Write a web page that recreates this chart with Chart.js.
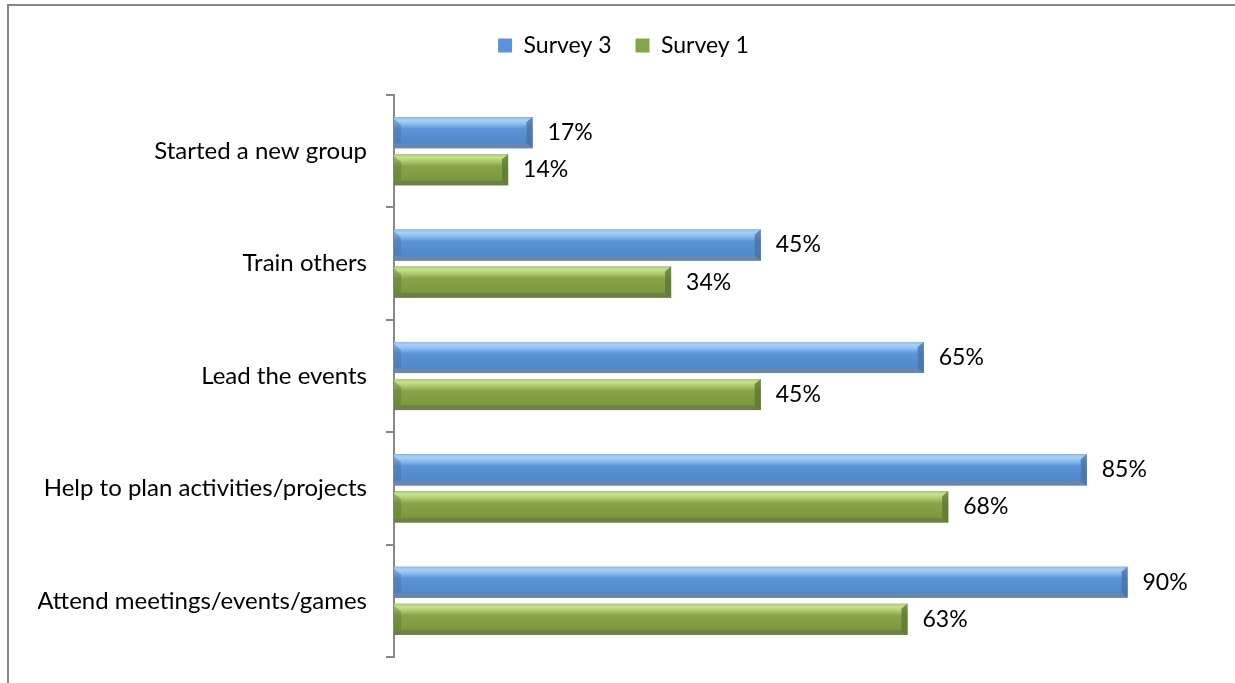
<!DOCTYPE html>
<html>
<head>
<meta charset="utf-8">
<script src="https://cdn.jsdelivr.net/npm/chart.js@4.4.0/dist/chart.umd.min.js"></script>
<style>
  html, body { margin: 0; padding: 0; background: #fff; overflow: hidden; }
  #wrap { position: relative; width: 1235px; height: 683px; }
  #frame { position: absolute; left: 7px; top: 4px; width: 1400px; height: 900px;
           border-left: 2px solid #878787; border-top: 2px solid #878787; }
  #myChart { position: absolute; left: 0; top: 0; }
</style>
</head>
<body>
<div id="wrap">
  <div id="frame"></div>
  <canvas id="myChart" width="1235" height="683"></canvas>
</div>
<script>
'use strict';

const activities = [
  'Started a new group',
  'Train others',
  'Lead the events',
  'Help to plan activities/projects',
  'Attend meetings/events/games'
];
const survey3 = [17, 45, 65, 85, 90];
const survey1 = [14, 34, 45, 68, 63];

// bevel colours for each dataset (blue first, green second)
const tones = [
  { main: '#5B93D8', top: '#8CBCEE', shine: '#AAD0F7', low: '#5287CB', band: '#6986AB', end: '#4A72A6' },
  { main: '#86A449', top: '#AFCB6E', shine: '#C8E08E', low: '#7B983F', band: '#6D8049', end: '#5E7830' }
];

Chart.defaults.font.family = 'Lato, "Open Sans", sans-serif';

// pushes the chart area down below the legend
const legendGap = {
  id: 'legendGap',
  beforeInit(chart) {
    const fit = chart.legend.fit;
    chart.legend.fit = function () {
      fit.call(this);
      this.height += 28;
    };
  }
};

// paints the 3d look on every bar and writes the % label after it
const barShade = {
  id: 'barShade',
  afterDatasetsDraw(chart) {
    const ctx = chart.ctx;
    ctx.save();
    chart.data.datasets.forEach((ds, i) => {
      const tone = tones[i];
      chart.getDatasetMeta(i).data.forEach((bar, j) => {
        const top = bar.y - bar.height / 2;
        const h = bar.height;
        const left = Math.min(bar.base, bar.x);
        const right = Math.max(bar.base, bar.x);
        const g = ctx.createLinearGradient(0, top, 0, top + h);
        g.addColorStop(0, tone.top);
        g.addColorStop(0.1, tone.shine);
        g.addColorStop(0.22, tone.top);
        g.addColorStop(0.38, tone.main);
        g.addColorStop(0.84, tone.low);
        g.addColorStop(0.86, tone.band);
        g.addColorStop(1, tone.band);
        ctx.fillStyle = g;
        ctx.fillRect(left, top, right - left, h);

        // left and right bevels
        ctx.globalAlpha = 0.45;
        ctx.fillStyle = tone.end;
        ctx.beginPath();
        ctx.moveTo(left, top + 2);
        ctx.lineTo(left + 7, top + 8);
        ctx.lineTo(left + 7, top + h - 5);
        ctx.lineTo(left, top + h - 5);
        ctx.closePath();
        ctx.fill();
        ctx.globalAlpha = 0.8;
        ctx.beginPath();
        ctx.moveTo(right, top);
        ctx.lineTo(right - 6, top + 5);
        ctx.lineTo(right - 6, top + h - 5);
        ctx.lineTo(right, top + h);
        ctx.closePath();
        ctx.fill();
        ctx.globalAlpha = 1;

        ctx.font = '23px ' + Chart.defaults.font.family;
        ctx.fillStyle = '#000';
        ctx.textAlign = 'left';
        ctx.textBaseline = 'middle';
        ctx.fillText(ds.data[j] + '%', right + 15, bar.y);
      });
    });
    ctx.restore();
  }
};

const chartCanvas = document.getElementById('myChart');

new Chart(chartCanvas, {
  type: 'bar',
  data: {
    labels: activities,
    datasets: [{
      label: 'Survey 3',
      data: survey3,
      backgroundColor: tones[0].main,
      borderWidth: 0
    }, {
      label: 'Survey 1',
      data: survey1,
      backgroundColor: tones[1].main,
      borderWidth: 0
    }]
  },
  options: {
    indexAxis: 'y',
    responsive: false,
    devicePixelRatio: 1,
    animation: false,
    events: [],
    categoryPercentage: 0.66,
    barPercentage: 0.84,
    layout: {
      padding: { left: 38, right: 26, top: 10, bottom: 26 }
    },
    plugins: {
      legend: {
        position: 'top',
        labels: {
          color: '#000',
          font: { size: 23 },
          boxWidth: 14,
          boxHeight: 14,
          padding: 24
        }
      },
      tooltip: { enabled: false }
    },
    scales: {
      x: {
        display: false,
        min: 0,
        max: 100
      },
      y: {
        afterFit(scale) {
          // fixed axis width, and no extra room above/below for the labels
          scale.width = 356;
          scale.paddingTop = 0;
          scale.paddingBottom = 0;
        },
        border: { color: '#878787', width: 2 },
        grid: {
          drawOnChartArea: false,
          tickLength: 8,
          color: '#878787',
          lineWidth: 2
        },
        ticks: {
          color: '#000',
          font: { size: 24 },
          padding: 19
        }
      }
    }
  },
  plugins: [legendGap, barShade]
});
</script>
</body>
</html>
